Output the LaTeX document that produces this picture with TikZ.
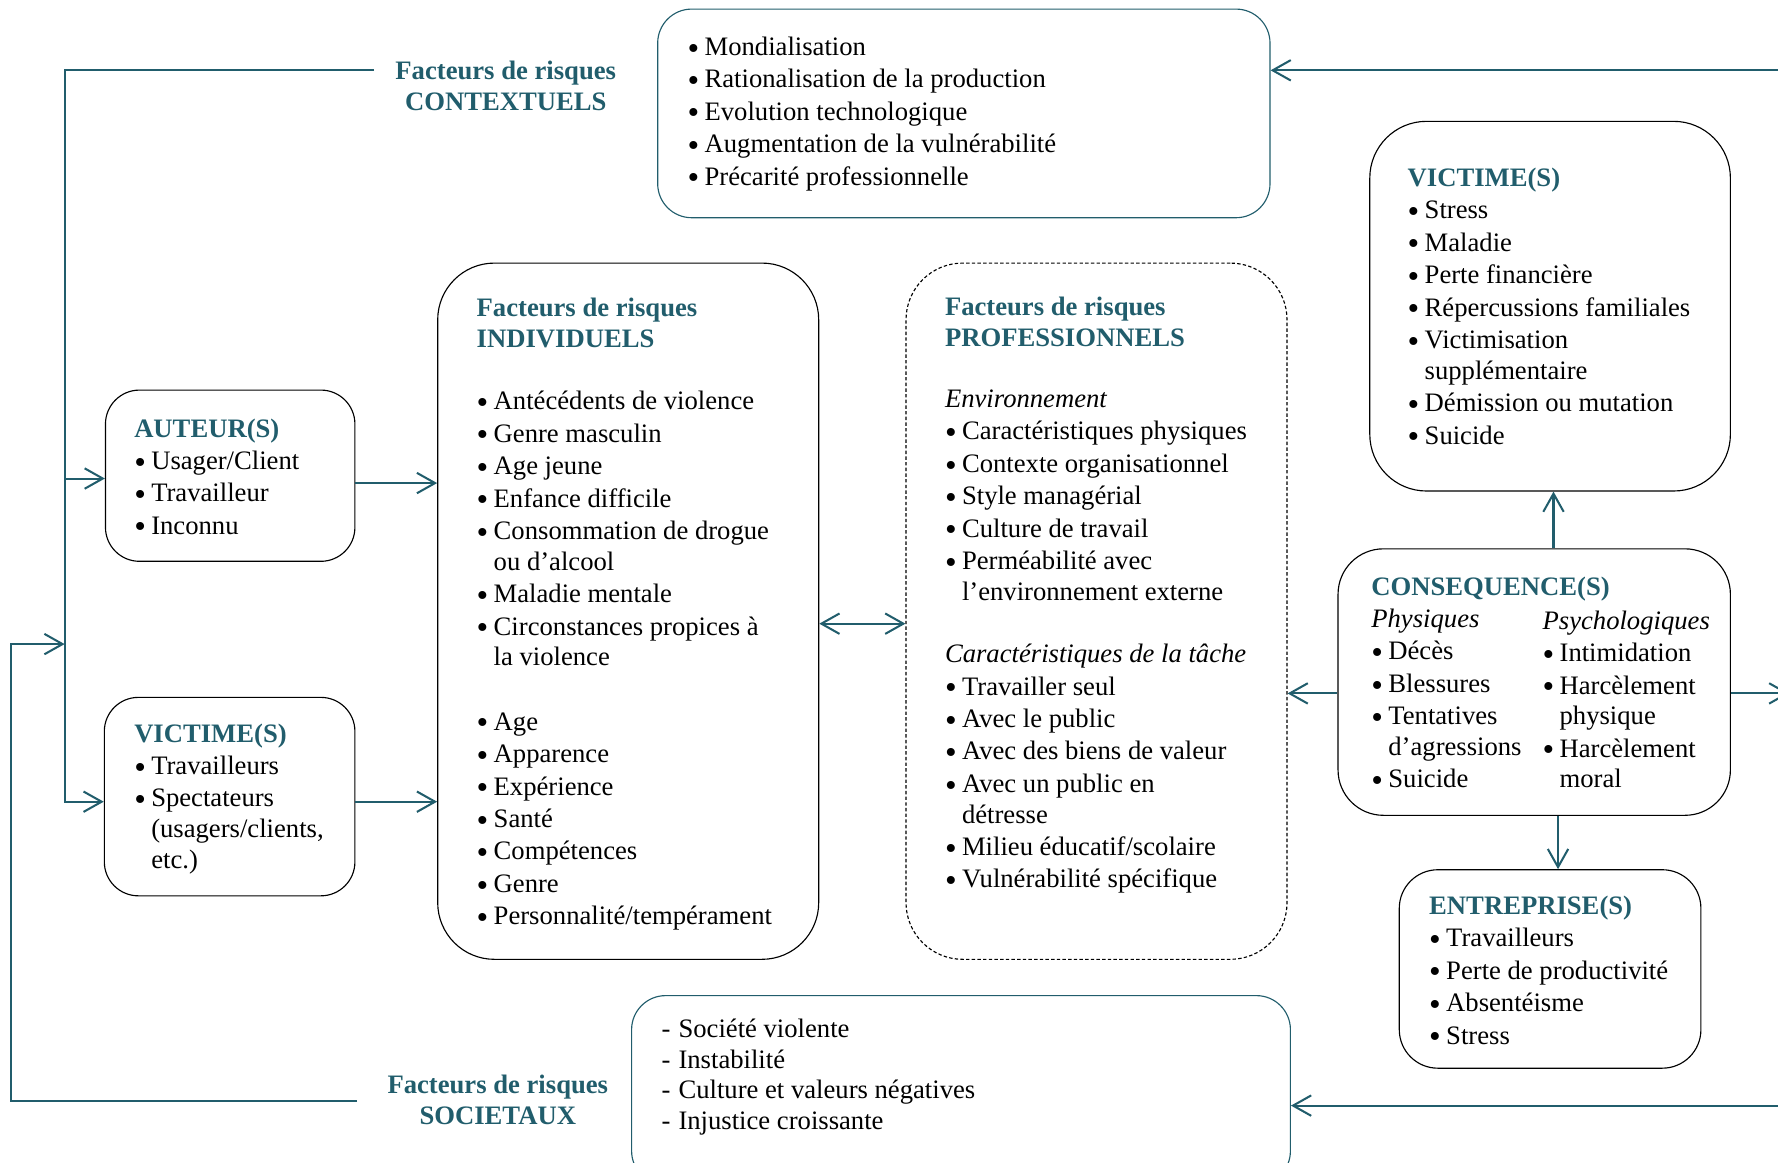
\documentclass[tikz,border=0pt]{standalone}
\usepackage{fontspec}
\setmainfont{Liberation Serif}
\usetikzlibrary{arrows.meta,fit}
\definecolor{sarcelle}{RGB}{33,93,108}
\newcommand{\puce}{\makebox[7.5pt][l]{\raisebox{-1.6pt}{\scalebox{1.25}{\textbullet}}}}
\newcommand{\tiret}{\makebox[7.5pt][l]{-}}
\newcommand{\suite}{\hspace*{7.5pt}}
\newcommand{\titre}[1]{\textbf{\color{sarcelle}#1}}
\newcommand{\haut}{\rule{0pt}{10pt}}
\begin{document}
\begin{tikzpicture}[x=0.5pt,y=-0.5pt,
		pointe/.tip={Straight Barb[length=8pt,width=9pt]},
		bloc/.style={draw,line width=0.5pt,inner sep=0pt,rounded corners=15pt},
		texte/.style={anchor=north west,inner sep=0pt,align=left,font=\fontsize{11.75}{13.5}\selectfont},
		etiquette/.style={inner sep=0pt,align=center,text=sarcelle,font=\fontsize{11.75}{13.5}\selectfont\bfseries},
		fleche/.style={draw=sarcelle,line width=0.9pt,-pointe}]
		\useasboundingbox (0,0) rectangle (1568,1025);
		\clip (0,0) rectangle (1568,1025);
		% cadres
		\node[bloc,draw=sarcelle,fit={(580,8) (1120,192)}] (contexte) {};
		\node[bloc,fit={(93,344) (313,495)}] (auteur) {};
		\node[bloc,fit={(92,615) (313,790)}] (victimeA) {};
		\node[bloc,rounded corners=25pt,fit={(386,232) (722,846)}] (individuel) {};
		\node[bloc,rounded corners=25pt,dash pattern=on 1.5pt off 1pt,fit={(799,232) (1135,846)}] (pro) {};
		\node[bloc,rounded corners=25pt,fit={(1208,107) (1526,433)}] (victimeB) {};
		\node[bloc,rounded corners=20pt,fit={(1180,484) (1526,719)}] (consequence) {};
		\node[bloc,rounded corners=17pt,fit={(1234,767) (1500,942)}] (entreprise) {};
		\node[bloc,draw=sarcelle,fit={(557,878) (1138,1045)}] (societe) {};
		% textes
		\node[etiquette] (lblctx) at (446,76) {Facteurs de risques\\CONTEXTUELS};
		\node[etiquette] (lblsoc) at (439,970) {Facteurs de risques\\SOCIETAUX};
		\node[texte] (txtctx) at (606,28.5) {\haut\puce Mondialisation\\[0.8pt]
			\puce Rationalisation de la production\\[0.8pt]
			\puce Evolution technologique\\[0.8pt]
			\puce Augmentation de la vulnérabilité\\[0.8pt]
			\puce Précarité professionnelle};
		\node[texte] (txtaut) at (118,365) {\haut\titre{AUTEUR(S)}\\[0.8pt]
			\puce Usager/Client\\[0.8pt]
			\puce Travailleur\\[0.8pt]
			\puce Inconnu};
		\node[texte] (txtvica) at (118,634) {\haut\titre{VICTIME(S)}\\[0.8pt]
			\puce Travailleurs\\[0.8pt]
			\puce Spectateurs\\
			\suite(usagers/clients,\\
			\suite etc.)};
		\node[texte] (txtind) at (420,259) {\haut\titre{Facteurs de risques}\\
			\titre{INDIVIDUELS}\\[14pt]
			\puce Antécédents de violence\\[0.8pt]
			\puce Genre masculin\\[0.8pt]
			\puce Age jeune\\[0.8pt]
			\puce Enfance difficile\\[0.8pt]
			\puce Consommation de drogue\\
			\suite ou d’alcool\\[0.8pt]
			\puce Maladie mentale\\[0.8pt]
			\puce Circonstances propices à\\
			\suite la violence\\[15pt]
			\puce Age\\[0.8pt]
			\puce Apparence\\[0.8pt]
			\puce Expérience\\[0.8pt]
			\puce Santé\\[0.8pt]
			\puce Compétences\\[0.8pt]
			\puce Genre\\[0.8pt]
			\puce Personnalité/tempérament};
		\node[texte] (txtpro) at (833,258) {\haut\titre{Facteurs de risques}\\
			\titre{PROFESSIONNELS}\\[13.5pt]
			\textit{Environnement}\\[0.8pt]
			\puce Caractéristiques physiques\\[0.8pt]
			\puce Contexte organisationnel\\[0.8pt]
			\puce Style managérial\\[0.8pt]
			\puce Culture de travail\\[0.8pt]
			\puce Perméabilité avec\\
			\suite l’environnement externe\\[14pt]
			\textit{Caractéristiques de la tâche}\\[0.8pt]
			\puce Travailler seul\\[0.8pt]
			\puce Avec le public\\[0.8pt]
			\puce Avec des biens de valeur\\[0.8pt]
			\puce Avec un public en\\
			\suite détresse\\[0.8pt]
			\puce Milieu éducatif/scolaire\\[0.8pt]
			\puce Vulnérabilité spécifique};
		\node[texte] (txtvicb) at (1241,144) {\haut\titre{VICTIME(S)}\\[0.8pt]
			\puce Stress\\[0.8pt]
			\puce Maladie\\[0.8pt]
			\puce Perte financière\\[0.8pt]
			\puce Répercussions familiales\\[0.8pt]
			\puce Victimisation\\
			\suite supplémentaire\\[0.8pt]
			\puce Démission ou mutation\\[0.8pt]
			\puce Suicide};
		\node[texte] (txtphys) at (1209,505) {\haut\titre{CONSEQUENCE(S)}\\[0.5pt]
			\textit{Physiques}\\[0.8pt]
			\puce Décès\\[0.8pt]
			\puce Blessures\\[0.8pt]
			\puce Tentatives\\
			\suite d’agressions\\[0.8pt]
			\puce Suicide};
		\node[texte] (txtpsy) at (1360,534.5) {\haut\textit{Psychologiques}\\[0.8pt]
			\puce Intimidation\\[0.8pt]
			\puce Harcèlement\\
			\suite physique\\[0.8pt]
			\puce Harcèlement\\
			\suite moral};
		\node[texte] (txtent) at (1260,786) {\haut\titre{ENTREPRISE(S)}\\[0.8pt]
			\puce Travailleurs\\[0.8pt]
			\puce Perte de productivité\\[0.8pt]
			\puce Absentéisme\\[0.8pt]
			\puce Stress};
		\node[texte] (txtsoc) at (583,894.5) {\haut\tiret Société violente\\
			\tiret Instabilité\\
			\tiret Culture et valeurs négatives\\
			\tiret Injustice croissante};
		% liaisons
		\coordinate (ctxdep) at (330,62);
		\coordinate (coude) at (57,62);
		\coordinate (socdep) at (315,971);
		\coordinate (coudeb) at (10,971);
		\coordinate (jonction) at (57,568);
		\coordinate (sortie) at (1578,611);
		\coordinate (retourh) at (1580,62);
		\coordinate (retourb) at (1580,975);
		\coordinate (aut-g) at ([yshift=-1.25pt]auteur.west);
		\coordinate (aut-d) at ([yshift=-3.25pt]auteur.east);
		\coordinate (vic-g) at ([yshift=-2.25pt]victimeA.west);
		\coordinate (vic-d) at ([yshift=-2.25pt]victimeA.east);
		\coordinate (ind-d) at ([yshift=-5.5pt]individuel.east);
		\coordinate (csq-g) at ([yshift=-5pt]consequence.west);
		\coordinate (csq-d) at ([yshift=-5pt]consequence.east);
		\coordinate (csq-h) at ([xshift=8.5pt]consequence.north);
		\coordinate (csq-b) at ([xshift=10.5pt]consequence.south);
		\draw[fleche] (ctxdep) -- (coude) |- (vic-g);
		\draw[fleche] (coude |- aut-g) -- (aut-g);
		\draw[fleche] (socdep) -- (coudeb) |- (jonction);
		\draw[fleche] (aut-d) -- (aut-d -| individuel.west);
		\draw[fleche] (vic-d) -- (vic-d -| individuel.west);
		\draw[fleche,pointe-pointe] (ind-d) -- (ind-d -| pro.west);
		\draw[fleche] (csq-h) -- (csq-h |- victimeB.south);
		\draw[fleche] (csq-g) -- (csq-g -| pro.east);
		\draw[fleche] (csq-d) -- (csq-d -| sortie);
		\draw[fleche] (csq-b) -- (csq-b |- entreprise.north);
		\draw[fleche] (retourh) -- (retourh -| contexte.east);
		\draw[fleche] (retourb) -- (retourb -| societe.east);
	\end{tikzpicture}
\end{document}
